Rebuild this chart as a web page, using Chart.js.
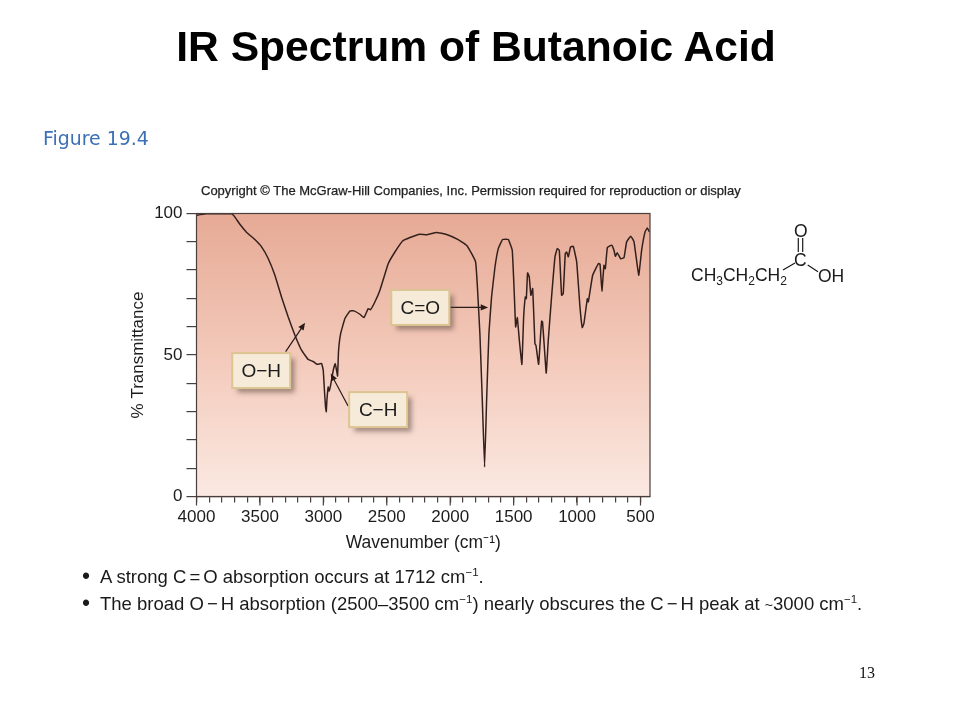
<!DOCTYPE html>
<html>
<head>
<meta charset="utf-8">
<title>IR Spectrum of Butanoic Acid</title>
<script src="https://cdn.jsdelivr.net/npm/chart.js@4"></script>
<style>
  html, body { margin: 0; padding: 0; background: #fff; }
  #page { position: relative; width: 960px; height: 720px; overflow: hidden; font-family: "Liberation Sans", Arial, sans-serif; color: #111; }
  #page canvas { position: absolute; left: 0; top: 0; }
  .txt { position: absolute; white-space: nowrap; }
  #title { left: 0; width: 952px; text-align: center; top: 22px; font-size: 42.6px; font-weight: bold; color: #000; }
  #figure { left: 43px; top: 127px; font-family: "DejaVu Sans", Verdana, sans-serif; font-size: 18.9px; color: #3b6fb6; }
  #copyright { left: 201px; top: 183px; font-size: 13px; -webkit-text-stroke: 0.25px #222; color: #222; }
  .bullet { left: 100px; font-size: 18.5px; color: #1a1a1a; }
  .bullet::before { content: "\2022"; position: absolute; left: -18px; font-size: 23px; top: -3px; }
  .bullet sup { font-size: 11.5px; line-height: 0; vertical-align: 7px; }
  .bullet span.op { margin: 0 3px; }
  #pageno { left: 859px; top: 664px; font-family: "Liberation Serif", serif; font-size: 16px; }
  #molecule { position: absolute; left: 680px; top: 215px; }
  #molecule text { font-family: "Liberation Sans", Arial, sans-serif; font-size: 17.5px; fill: #1a1a1a; }
</style>
</head>
<body>
<div id="page">
  <canvas id="grafica" width="960" height="720"></canvas>
  <div class="txt" id="title">IR Spectrum of Butanoic Acid</div>
  <div class="txt" id="figure">Figure 19.4</div>
  <div class="txt" id="copyright">Copyright © The McGraw-Hill Companies, Inc. Permission required for reproduction or display</div>
  <svg id="molecule" width="170" height="80">
    <text x="11" y="66">CH<tspan font-size="12" dy="4">3</tspan><tspan dy="-4">CH</tspan><tspan font-size="12" dy="4">2</tspan><tspan dy="-4">CH</tspan><tspan font-size="12" dy="4">2</tspan></text>
    <text x="114" y="22">O</text>
    <text x="114" y="51">C</text>
    <text x="138" y="67">OH</text>
    <path d="M118.3 23 V37 M122.7 23 V37 M103 55 L115 48 M127.7 50 L138 56.7" stroke="#1a1a1a" stroke-width="1.2" fill="none"/>
  </svg>
  <div class="txt bullet" style="top:566px">A strong C<span class="op">=</span>O absorption occurs at 1712 cm<sup>−1</sup>.</div>
  <div class="txt bullet" style="top:593px">The broad O<span class="op">−</span>H absorption (2500–3500 cm<sup>−1</sup>) nearly obscures the C<span class="op">−</span>H peak at <span style="font-size:14px">~</span>3000 cm<sup>−1</sup>.</div>
  <div class="txt" id="pageno">13</div>
</div>
<script>
// valores
const wavenumbers = [4000, 3974, 3895, 3724, 3698, 3658, 3606, 3540, 3487, 3435, 3382, 3330, 3277, 3224, 3172, 3119, 3080, 3048, 3014, 3001, 2993, 2983, 2977, 2972, 2962, 2954, 2943, 2922, 2906, 2896, 2888, 2880, 2864, 2830, 2791, 2759, 2712, 2680, 2646, 2628, 2593, 2554, 2488, 2436, 2375, 2317, 2239, 2186, 2108, 2029, 1937, 1871, 1831, 1800, 1787, 1766, 1747, 1729, 1713, 1695, 1674, 1647, 1621, 1587, 1542, 1511, 1495, 1484, 1471, 1455, 1435, 1421, 1408, 1400, 1390, 1377, 1364, 1350, 1332, 1324, 1303, 1287, 1279, 1272, 1258, 1243, 1227, 1201, 1174, 1156, 1140, 1122, 1109, 1093, 1082, 1069, 1051, 1030, 1003, 977, 959, 946, 919, 911, 877, 832, 819, 804, 788, 777, 761, 727, 709, 698, 683, 656, 630, 609, 577, 551, 514, 491, 464, 446, 430];
const transmittance = [99.3, 99.6, 100, 99.9, 98.8, 96.2, 93.4, 90.8, 88.2, 84.1, 78.2, 70.5, 63.4, 57, 51.7, 48.4, 47.7, 46.7, 47, 44.6, 38.7, 31.6, 30, 34, 38.7, 37.3, 39.3, 44.6, 47, 44.6, 42.6, 51.6, 57.5, 62.9, 65.5, 65.6, 64.4, 63.2, 66.4, 66, 68.8, 72.9, 82.3, 86.4, 90.3, 91.5, 92.7, 92.5, 93.3, 92.6, 90.8, 88.8, 85.8, 82.9, 75.2, 57.5, 34, 10.4, 34, 57.5, 70.5, 81.1, 87.6, 90.8, 90.8, 87, 71.7, 59.9, 63.2, 55.2, 46.7, 63.4, 70.5, 69.9, 79, 77.6, 71.1, 73.5, 54, 53.4, 46.7, 57.5, 62, 61.6, 52.8, 43.6, 55.2, 70.5, 84.7, 87.6, 87, 71.1, 71.7, 85.8, 86.4, 84.7, 88.2, 88.4, 82.9, 66.9, 59.7, 61.1, 69.9, 68.8, 78.2, 82.3, 82.1, 72.6, 81.7, 80.5, 88, 88.8, 87, 84.9, 86.1, 84, 84.4, 90, 92, 90, 78.2, 87, 93.5, 94.9, 93.5];

const etiquetas = ["O−H", "C−H", "C=O"];
const etiquetaWave = [3490, 2568, 2236];
const etiquetaT = [44.5, 30.7, 66.8];

const flechaDesdeWave = [3297, 2805, 1998];
const flechaDesdeT = [51.2, 32, 66.8];
const flechaHastaWave = [3144, 2942, 1701];
const flechaHastaT = [61.4, 43.5, 66.8];

const COLOR_EJE = "#4a3f3c";
const COLOR_TEXTO = "#1c1c1c";

// fondo degradado y marco del area de trazado
const fondoPlugin = {
  id: "fondo",
  beforeDatasetsDraw(chart) {
    const { ctx, chartArea: a } = chart;
    const g = ctx.createLinearGradient(0, a.top, 0, a.bottom);
    g.addColorStop(0, "#e6aa95");
    g.addColorStop(0.5, "#f3c9ba");
    g.addColorStop(1, "#fbe9e2");
    ctx.save();
    ctx.fillStyle = g;
    ctx.fillRect(a.left, a.top, a.right - a.left, a.bottom - a.top);
    ctx.restore();
  },
  afterDatasetsDraw(chart) {
    const { ctx, chartArea: a } = chart;
    ctx.save();
    ctx.strokeStyle = COLOR_EJE;
    ctx.lineWidth = 1.2;
    ctx.strokeRect(a.left, a.top, a.right - a.left, a.bottom - a.top);
    ctx.restore();
  }
};

// las marcas mayores del eje x son mas largas que las menores
const marcasPlugin = {
  id: "marcas",
  afterDraw(chart) {
    const { ctx, scales } = chart;
    const x = scales.x;
    ctx.save();
    ctx.strokeStyle = COLOR_EJE;
    ctx.lineWidth = 1.2;
    x.ticks.forEach(t => {
      if (t.value % 500 !== 0) return;
      const px = x.getPixelForValue(t.value);
      ctx.beginPath();
      ctx.moveTo(px, x.top);
      ctx.lineTo(px, x.top + 9);
      ctx.stroke();
    });
    ctx.restore();
  }
};

function dibujarFlecha(ctx, x0, y0, x1, y1) {
  const ang = Math.atan2(y1 - y0, x1 - x0);
  const largo = 8;
  ctx.strokeStyle = "#2a1a18";
  ctx.fillStyle = "#2a1a18";
  ctx.lineWidth = 1.2;
  ctx.beginPath();
  ctx.moveTo(x0, y0);
  ctx.lineTo(x1 - Math.cos(ang) * 4, y1 - Math.sin(ang) * 4);
  ctx.stroke();
  ctx.beginPath();
  ctx.moveTo(x1, y1);
  ctx.lineTo(x1 - largo * Math.cos(ang - 0.4), y1 - largo * Math.sin(ang - 0.4));
  ctx.lineTo(x1 - largo * Math.cos(ang + 0.4), y1 - largo * Math.sin(ang + 0.4));
  ctx.closePath();
  ctx.fill();
}

const etiquetasPlugin = {
  id: "etiquetas",
  afterDatasetsDraw(chart) {
    const { ctx, scales } = chart;
    const ancho = 58, alto = 35;
    ctx.save();
    etiquetas.forEach((texto, i) => {
      dibujarFlecha(ctx,
        scales.x.getPixelForValue(flechaDesdeWave[i]), scales.y.getPixelForValue(flechaDesdeT[i]),
        scales.x.getPixelForValue(flechaHastaWave[i]), scales.y.getPixelForValue(flechaHastaT[i]));

      const cx = scales.x.getPixelForValue(etiquetaWave[i]);
      const cy = scales.y.getPixelForValue(etiquetaT[i]);
      ctx.save();
      ctx.shadowColor = "rgba(90,70,60,0.55)";
      ctx.shadowBlur = 5;
      ctx.shadowOffsetX = 5;
      ctx.shadowOffsetY = 5;
      ctx.fillStyle = "#f6ead8";
      ctx.fillRect(cx - ancho / 2, cy - alto / 2, ancho, alto);
      ctx.restore();
      ctx.strokeStyle = "#dcc592";
      ctx.lineWidth = 2;
      ctx.strokeRect(cx - ancho / 2, cy - alto / 2, ancho, alto);
      ctx.fillStyle = COLOR_TEXTO;
      ctx.font = '19px "Liberation Sans", Arial, sans-serif';
      ctx.textAlign = "center";
      ctx.textBaseline = "middle";
      ctx.fillText(texto, cx, cy + 1);
    });
    ctx.restore();
  }
};

new Chart(document.getElementById("grafica"), {
  type: "line",
  data: {
    labels: wavenumbers,
    datasets: [{
      label: "% Transmittance",
      data: wavenumbers.map((w, i) => ({ x: w, y: transmittance[i] })),
      borderColor: "#33201d",
      borderWidth: 1.5,
      pointRadius: 0,
      tension: 0.1,
      fill: false
    }]
  },
  options: {
    responsive: false,
    animation: false,
    devicePixelRatio: 1,
    layout: { padding: { left: 128, top: 213.5, right: 310, bottom: 166 } },
    plugins: { legend: { display: false }, tooltip: { enabled: false } },
    scales: {
      x: {
        type: "linear",
        reverse: true,
        min: 425,
        max: 4000,
        afterBuildTicks(axis) {
          axis.ticks = axis.ticks.filter(t => t.value % 100 === 0);
        },
        afterFit(axis) { axis.height = 57.5; },
        grid: { drawOnChartArea: false, tickLength: 6, color: COLOR_EJE, lineWidth: 1.2 },
        border: { display: true, color: COLOR_EJE, width: 1.2 },
        ticks: {
          stepSize: 100,
          includeBounds: false,
          autoSkip: false,
          maxRotation: 0,
          padding: 5,
          color: COLOR_TEXTO,
          font: { family: '"Liberation Sans", Arial, sans-serif', size: 17 },
          callback: v => (v % 500 === 0 ? String(v) : "")
        },
        title: {
          display: true,
          text: "Wavenumber (cm⁻¹)",
          color: COLOR_TEXTO,
          padding: 0,
          font: { family: '"Liberation Sans", Arial, sans-serif', size: 17.5 }
        }
      },
      y: {
        min: 0,
        max: 100,
        afterFit(axis) { axis.width = 68.5; },
        grid: { drawOnChartArea: false, tickLength: 10, color: COLOR_EJE, lineWidth: 1.2 },
        border: { display: true, color: COLOR_EJE, width: 1.2 },
        ticks: {
          stepSize: 10,
          padding: 4,
          color: COLOR_TEXTO,
          font: { family: '"Liberation Sans", Arial, sans-serif', size: 17 },
          callback: v => (v % 50 === 0 ? String(v) : "")
        },
        title: {
          display: true,
          text: "% Transmittance",
          color: COLOR_TEXTO,
          padding: 0,
          font: { family: '"Liberation Sans", Arial, sans-serif', size: 17 }
        }
      }
    }
  },
  plugins: [fondoPlugin, marcasPlugin, etiquetasPlugin]
});
</script>
</body>
</html>
